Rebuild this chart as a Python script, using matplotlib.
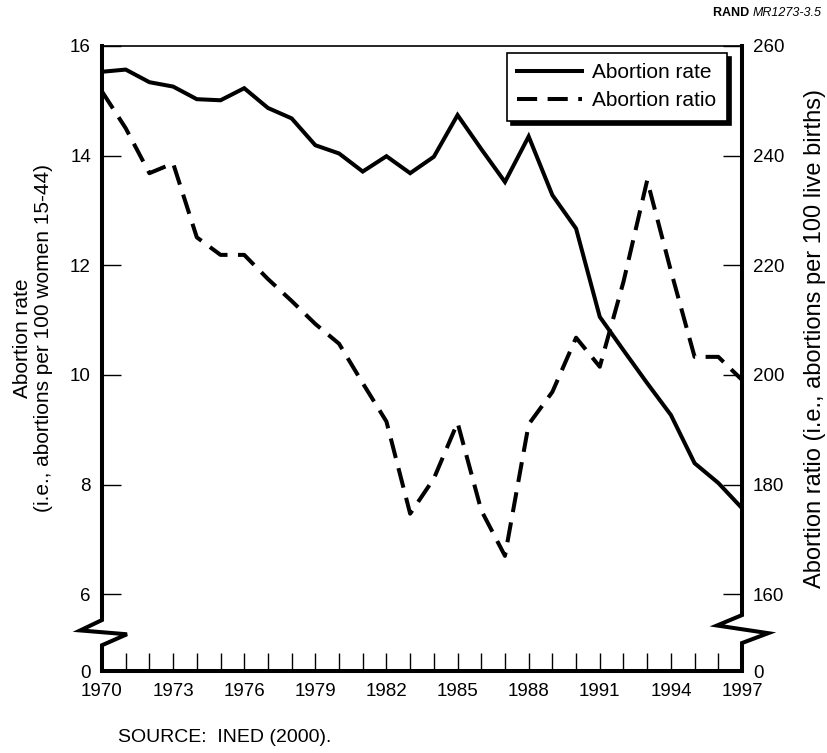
import matplotlib.pyplot as plt

plt.rcParams['font.family'] = ['Liberation Sans', 'DejaVu Sans']

# Data
years = list(range(1970, 1998))
abortion_rate = [15.53, 15.57, 15.34, 15.26, 15.03, 15.01, 15.23, 14.87, 14.68, 14.19,
                 14.04, 13.71, 13.99, 13.68, 13.98, 14.74, 14.12, 13.52, 14.35, 13.28,
                 12.67, 11.06, 10.45, 9.85, 9.27, 8.39, 8.03, 7.57]
abortion_ratio = [251.7, 245.0, 236.8, 238.6, 225.1, 221.9, 221.9, 217.5, 213.5, 209.3,
                  205.7, 198.5, 191.5, 174.7, 181.1, 191.3, 175.3, 167.0, 191.0, 196.9,
                  206.8, 201.5, 217.0, 235.5, 219.0, 203.3, 203.3, 199.1]
rate_ticks = [6, 8, 10, 12, 14, 16]
ratio_ticks = [160, 180, 200, 220, 240, 260]
year_labels = list(range(1970, 1998, 3))

# broken axis: bottom of the axes stands for 0
YBOT = 4.6
RBOT = 100 + 10 * YBOT
LW = 2.9
FS = 13.5

fig = plt.figure(figsize=(8.28, 7.53), dpi=100)
ax = fig.add_axes([102 / 828, 1 - 671 / 753, 640 / 828, 625 / 753])
ax2 = ax.twinx()

ax.set_xlim(1970, 1997)
ax.set_ylim(YBOT, 16)
ax2.set_ylim(RBOT, 260)

l1, = ax.plot(years, abortion_rate, color='black', lw=LW, solid_joinstyle='miter',
              label='Abortion rate')
l2, = ax2.plot(years, abortion_ratio, color='black', lw=LW, dashes=(5, 2.6),
               label='Abortion ratio')

# spines
for s in ['left', 'right']:
    ax.spines[s].set_visible(False)
for s in ax2.spines.values():
    s.set_visible(False)
ax.spines['top'].set_linewidth(1.2)
ax.spines['bottom'].set_linewidth(LW)
ax.spines['bottom'].set_capstyle('projecting')

tr = ax.get_yaxis_transform()
ax.plot([0, 0, -0.034, 0.039, 0, 0], [16, 5.53, 5.34, 5.27, 5.07, YBOT],
        color='black', lw=LW, transform=tr, clip_on=False, solid_joinstyle='miter',
        solid_capstyle='projecting', zorder=5)
ax.plot([1, 1, 0.961, 1.041, 1, 1], [16, 5.62, 5.43, 5.29, 5.11, YBOT],
        color='black', lw=LW, transform=tr, clip_on=False, solid_joinstyle='miter',
        solid_capstyle='projecting', zorder=5)

# ticks
ax.set_xticks(year_labels, [str(y) for y in year_labels], fontsize=FS)
ax.set_xticks(years, minor=True)
ax.tick_params(axis='x', which='both', direction='in', length=13, width=1,
               top=False, pad=9)

ax.set_yticks([YBOT] + rate_ticks, ['0'] + [str(t) for t in rate_ticks], fontsize=FS)
ax.tick_params(axis='y', direction='in', length=14, width=1, pad=8, right=False)
ax.yaxis.get_major_ticks()[0].tick1line.set_visible(False)

ax2.set_yticks([RBOT] + ratio_ticks, ['0'] + [str(t) for t in ratio_ticks], fontsize=FS)
ax2.tick_params(axis='y', direction='in', length=14, width=1, pad=8)
ax2.yaxis.get_major_ticks()[0].tick2line.set_visible(False)

# axis labels
fig.text(33 / 828, 1 - 338 / 753,
         'Abortion rate\n(i.e., abortions per 100 women 15-44)',
         rotation=90, ha='center', va='center', fontsize=15, linespacing=1.15)
fig.text(815 / 828, 1 - 338 / 753,
         'Abortion ratio (i.e., abortions per 100 live births)',
         rotation=90, ha='center', va='center', fontsize=17)

# legend
leg = ax2.legend(handles=[l1, l2], loc='upper right',
                 bbox_to_anchor=((727 - 102) / 640, (671 - 53) / 625),
                 borderaxespad=0, fontsize=15, handlelength=3.1, handletextpad=0.5,
                 fancybox=False, framealpha=1, edgecolor='black', borderpad=0.5,
                 labelspacing=0.42,
                 shadow={'ox': 3, 'oy': -3, 'facecolor': 'black', 'edgecolor': 'black',
                         'alpha': 1})
leg.get_frame().set_linewidth(1.2)

# notes
t = fig.text(822 / 828, 1 - 13 / 753, 'MR1273-3.5', style='italic', fontsize=9,
             ha='right', va='center')
ax.annotate('RAND ', xy=(0, 0.5), xycoords=t, ha='right', va='center',
            fontsize=9, weight='bold', annotation_clip=False)
fig.text(118 / 828, 1 - 738 / 753, 'SOURCE:  INED (2000).', fontsize=14, va='center')

fig.savefig('out.png', dpi=100)
